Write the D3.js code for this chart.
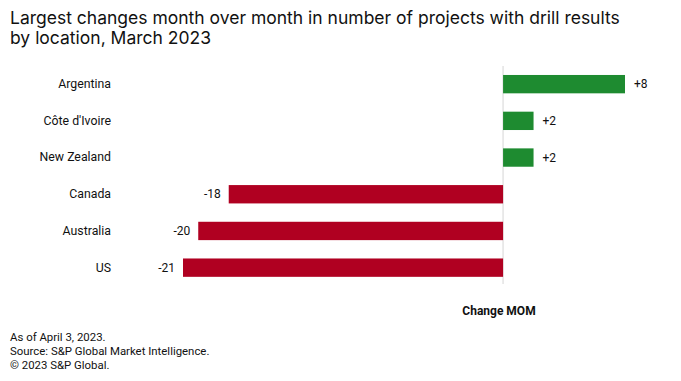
<!DOCTYPE html>
<html>
<head>
<meta charset="utf-8">
<script src="https://cdn.jsdelivr.net/npm/d3@7"></script>
<style>
  body { margin: 0; background: #fff; }
  text { font-family: Roboto, "Noto Sans", sans-serif; fill: #111; }
</style>
</head>
<body>
<div id="chart"></div>
<script>
// chart data
var locations = ["Argentina", "Côte d'Ivoire", "New Zealand", "Canada", "Australia", "US"];
var changes = [8, 2, 2, -18, -20, -21];
var valueLabels = ["+8", "+2", "+2", "-18", "-20", "-21"];

var titleLines = [
  "Largest changes month over month in number of projects with drill results",
  "by location, March 2023"
];
var notes = ["As of April 3, 2023.", "Source: S&P Global Market Intelligence.", "© 2023 S&P Global."];

var svgWidth = 681;
var svgHeight = 381;

var svg = d3.select("#chart")
  .append("svg")
  .attr("width", svgWidth)
  .attr("height", svgHeight);

// title
svg.append("g").selectAll("text")
  .data(titleLines)
  .enter()
  .append("text")
  .attr("x", 10)
  .attr("y", (d, i) => 24 + i * 19.5)
  .style("font-family", "Inter, Roboto, sans-serif")
  .style("font-size", "17.5px")
  .text(d => d);

// scales
var xScale = d3.scaleLinear()
  .domain([-21, 8])
  .range([183, 625]);

var yScale = d3.scaleBand()
  .domain(locations)
  .range([65.8, 286])
  .paddingInner(0.5)
  .paddingOuter(0.25);

var chartGroup = svg.append("g");

// zero line
chartGroup.append("line")
  .attr("x1", xScale(0))
  .attr("x2", xScale(0))
  .attr("y1", 66)
  .attr("y2", 284)
  .attr("stroke", "#e3e3e3")
  .attr("stroke-width", 1.5);

// bars
chartGroup.selectAll("rect")
  .data(changes)
  .enter()
  .append("rect")
  .attr("x", d => xScale(Math.min(0, d)))
  .attr("y", (d, i) => yScale(locations[i]))
  .attr("width", d => Math.abs(xScale(d) - xScale(0)))
  .attr("height", yScale.bandwidth())
  .attr("fill", d => d >= 0 ? "#1e8b30" : "#b00021");

// value labels
chartGroup.selectAll(".val")
  .data(changes)
  .enter()
  .append("text")
  .attr("class", "val")
  .attr("x", d => d >= 0 ? xScale(d) + 9 : xScale(d) - 8)
  .attr("y", (d, i) => yScale(locations[i]) + yScale.bandwidth() / 2)
  .attr("dy", "0.35em")
  .style("font-size", "12px")
  .style("text-anchor", d => d >= 0 ? "start" : "end")
  .text((d, i) => valueLabels[i]);

// category labels
var leftAxis = d3.axisLeft(yScale).tickSize(0).tickPadding(0);
var axisG = chartGroup.append("g")
  .attr("transform", "translate(111, 0)")
  .call(leftAxis);
axisG.select(".domain").remove();
axisG.selectAll("text")
  .style("font-size", "12.3px")
  .style("font-family", "Roboto, 'Noto Sans', sans-serif")
  .attr("fill", "#111");

// axis title
svg.append("text")
  .attr("x", 499)
  .attr("y", 315)
  .style("font-size", "12px")
  .style("font-weight", "bold")
  .style("text-anchor", "middle")
  .text("Change MOM");

// footnotes
svg.append("g").selectAll("text")
  .data(notes)
  .enter()
  .append("text")
  .attr("x", 10)
  .attr("y", (d, i) => 341 + i * 14)
  .style("font-size", "11.4px")
  .text(d => d);
</script>
</body>
</html>
